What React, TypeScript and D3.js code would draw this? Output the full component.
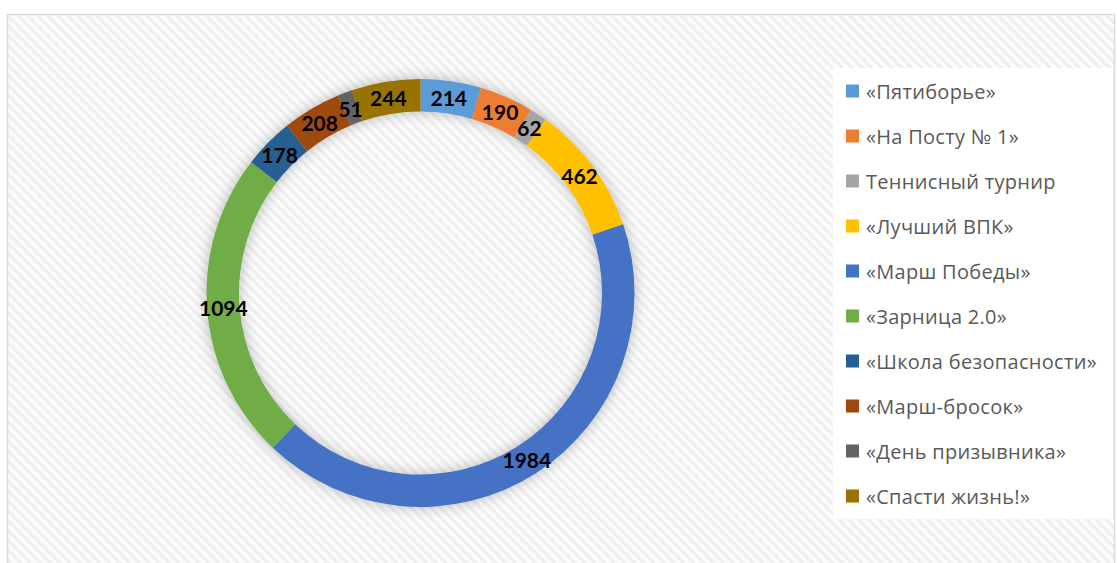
import React from "react";
import * as d3 from "d3";

const categories = [
  "«Пятиборье»",
  "«На Посту № 1»",
  "Теннисный турнир",
  "«Лучший ВПК»",
  "«Марш Победы»",
  "«Зарница 2.0»",
  "«Школа безопасности»",
  "«Марш-бросок»",
  "«День призывника»",
  "«Спасти жизнь!»",
];
const values = [214, 190, 62, 462, 1984, 1094, 178, 208, 51, 244];
const colors = [
  "#5b9bd5",
  "#ed7d31",
  "#a5a5a5",
  "#ffc000",
  "#4472c4",
  "#70ad47",
  "#255e91",
  "#9e480e",
  "#636363",
  "#997300",
];

const W = 1117;
const H = 563;

export default function App() {
  const cx = 420.5;
  const cy = 293;
  const outerR = 214;
  const innerR = 181.5;
  const data = categories.map((c, i) => ({ c, v: values[i], color: colors[i] }));
  const pie = d3
    .pie<{ c: string; v: number; color: string }>()
    .value((d) => d.v)
    .sort(null)
    .startAngle(0)
    .endAngle(2 * Math.PI);
  const arcs = pie(data);
  const arc = d3
    .arc<d3.PieArcDatum<{ c: string; v: number; color: string }>>()
    .innerRadius(innerR)
    .outerRadius(outerR);

  const legendX = 846;
  const legendY0 = 91;
  const legendStep = 45;

  return (
    <svg
      width={W}
      height={H}
      style={{ position: "absolute", left: 0, top: 0, display: "block" }}
    >
      <defs>
        <pattern
          id="hatch"
          patternUnits="userSpaceOnUse"
          width={7}
          height={7}
          patternTransform="rotate(-45)"
        >
          <rect width={7} height={7} fill="#fcfcfc" />
          <rect width={3.2} height={7} fill="#efefef" />
        </pattern>
        <filter id="sh" x="-30%" y="-30%" width="160%" height="160%">
          <feDropShadow dx="0" dy="0" stdDeviation="7" floodColor="#000" floodOpacity="0.28" />
        </filter>
      </defs>
      <rect x={0} y={0} width={W} height={H} fill="#ffffff" />
      <rect
        x={7.5}
        y={14.5}
        width={1107}
        height={H + 20}
        fill="url(#hatch)"
        stroke="#d9d9d9"
        strokeWidth={1.5}
      />
      <g transform={`translate(${cx},${cy})`}>
        <g filter="url(#sh)">
          {arcs.map((a, i) => (
            <path key={i} d={arc(a) || ""} fill={a.data.color} />
          ))}
        </g>
        {arcs.map((a, i) => {
          const [x, y] = arc.centroid(a);
          return (
            <text
              key={"l" + i}
              x={x}
              y={y}
              textAnchor="middle"
              dominantBaseline="central"
              fontFamily="Lato, 'Open Sans', sans-serif"
              fontWeight="bold"
              fontSize={21}
              fill="#000000"
            >
              {a.data.v}
            </text>
          );
        })}
      </g>
      <rect x={833} y={68} width={280} height={451} fill="#ffffff" />
      {data.map((d, i) => (
        <g key={"g" + i} transform={`translate(${legendX},${legendY0 + i * legendStep})`}>
          <rect x={0} y={-6.5} width={13} height={13} fill={d.color} />
          <text
            x={20}
            y={0.5}
            dominantBaseline="central"
            fontFamily="'Open Sans', Lato, sans-serif"
            fontSize={20}
            letterSpacing={0.3}
            fill="#595959"
          >
            {d.c}
          </text>
        </g>
      ))}
    </svg>
  );
}
